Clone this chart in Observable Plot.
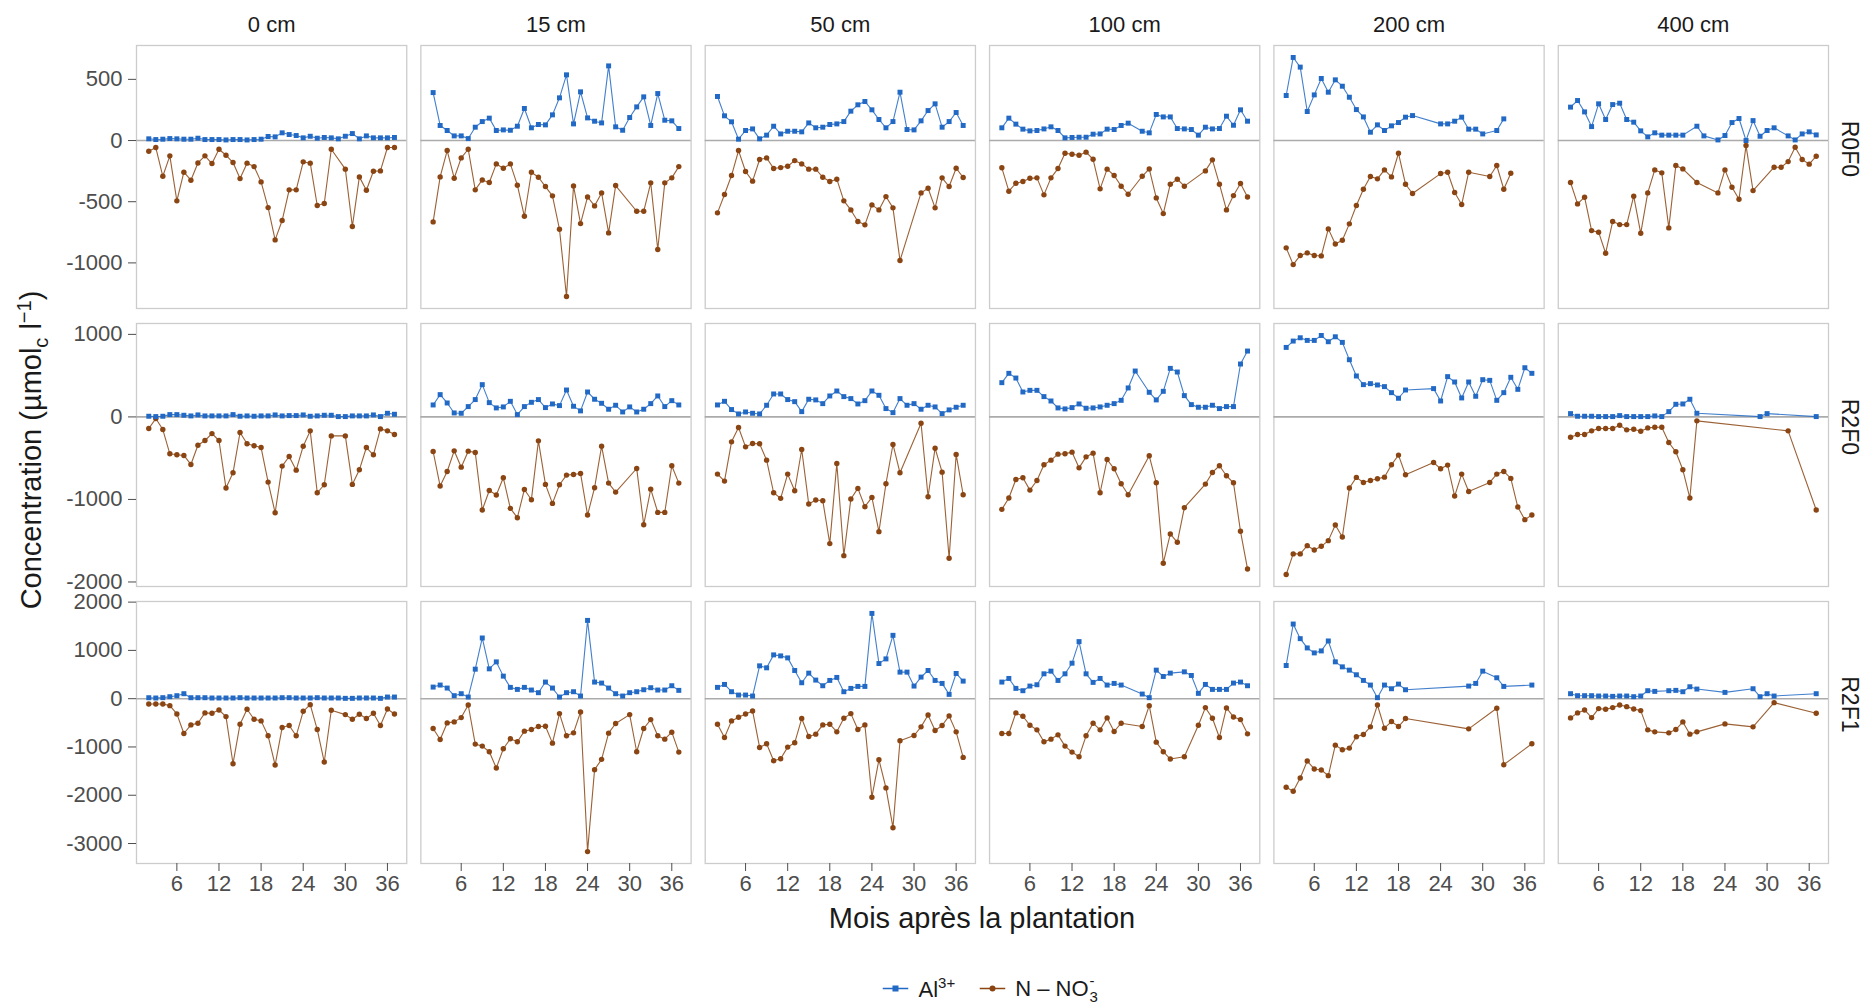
<!DOCTYPE html>
<html><head><meta charset="utf-8">
<script src="https://cdn.jsdelivr.net/npm/d3@7"></script>
<script src="https://cdn.jsdelivr.net/npm/@observablehq/plot@0.6"></script>
<style>
body{margin:0;background:#fff;font-family:"Liberation Sans",Arial,Helvetica,sans-serif;}
#wrap{position:relative;width:1865px;height:1006px;overflow:hidden;background:#fff;}
.row{position:absolute;left:0;}
.ytitle{position:absolute;left:33px;top:450px;transform:translate(-50%,-50%) rotate(-90deg);font-size:29px;color:#1a1a1a;white-space:nowrap;}
.xtitle{position:absolute;left:982px;top:918px;transform:translate(-50%,-50%);font-size:29px;color:#1a1a1a;white-space:nowrap;}
.legend{position:absolute;left:991px;top:988px;transform:translate(-50%,-50%);display:flex;align-items:center;font-size:22px;color:#1a1a1a;white-space:nowrap;}
.legend svg{margin-right:10px;}
.legend .item{display:flex;align-items:center;margin:0 12px;}
.sup{font-size:15px;vertical-align:9px;}
.ss{position:relative;display:inline-block;width:11px;height:22px;}
.ss span{position:absolute;left:1px;font-size:15px;line-height:15px;}
</style></head><body><div id="wrap"></div>
<script>
// ---------- categories ----------
const months = [2,3,4,5,6,7,8,9,10,11,12,13,14,15,16,17,18,19,20,21,22,23,24,25,26,27,28,29,30,31,32,33,34,35,36,37];
const depths = ["0 cm","15 cm","50 cm","100 cm","200 cm","400 cm"];
const treatments = ["R0F0","R2F0","R2F1"];
const xTicks = [6,12,18,24,30,36];
const yTicksR0F0 = [-1000,-500,0,500];
const yTicksR2F0 = [-2000,-1000,0,1000];
const yTicksR2F1 = [-3000,-2000,-1000,0,1000,2000];

// ---------- R0F0 ----------
const al_R0F0_0   = [14,8,11,16,14,11,11,19,8,8,8,5,8,8,5,8,11,33,30,63,49,41,22,35,19,25,22,14,35,57,14,38,22,22,22,25];
const no3_R0F0_0  = [-87,-57,-292,-125,-493,-259,-324,-183,-125,-188,-71,-120,-180,-311,-185,-213,-338,-548,-812,-654,-403,-403,-174,-185,-531,-515,-71,null,-234,-703,-297,-406,-251,-248,-57,-57];
const al_R0F0_15  = [392,123,82,38,38,16,109,155,183,82,87,84,117,262,104,131,128,210,349,537,136,398,185,158,144,610,112,84,188,275,357,123,384,166,161,98];
const no3_R0F0_15 = [-665,-297,-82,-308,-142,-71,-403,-322,-343,-191,-226,-191,-365,-619,-259,-300,-376,-452,-725,-1275,-371,-679,-461,-534,-428,-755,-368,null,null,-578,-578,-346,-891,-346,-305,-213];
const al_R0F0_50  = [360,202,153,11,82,95,14,44,117,54,76,76,71,144,104,109,131,136,155,240,292,319,251,172,104,155,395,90,87,161,245,300,109,155,229,123];
const no3_R0F0_50 = [-591,-441,-286,-82,-253,-332,-155,-142,-229,-221,-210,-164,-191,-234,-234,-300,-335,-316,-493,-567,-662,-689,-526,-567,-458,-550,-981,null,null,-428,-390,-550,-305,-376,-226,-302];
const al_R0F0_100 = [104,183,134,93,79,82,95,112,82,22,25,27,27,52,54,93,90,123,142,null,76,63,213,193,193,98,95,90,44,109,95,98,199,125,251,158];
const no3_R0F0_100= [-223,-414,-349,-335,-308,-305,-444,-305,-229,-104,-112,-120,-95,-153,-395,-234,-286,-373,-439,null,-292,-232,-469,-597,-357,-316,-373,null,null,-248,-158,-357,-567,-450,-351,-461];
const al_R0F0_200 = [368,679,600,237,373,507,395,496,444,354,253,193,68,128,82,120,147,191,204,null,null,null,136,136,158,191,93,93,54,null,82,177,null,null,null,null];
const no3_R0F0_200= [-877,-1014,-939,-918,-939,-943,-722,-845,-815,-681,-531,-398,-294,-313,-240,-297,-104,-357,-433,null,null,null,-270,-259,-425,-523,-259,null,null,-294,-204,-398,-267,null,null,null];
const al_R0F0_400 = [273,327,234,114,300,172,294,305,172,150,79,30,63,44,44,44,44,null,117,38,null,5,41,147,180,0,163,35,82,104,null,38,5,54,71,46];
const no3_R0F0_400= [-343,-518,-463,-736,-749,-921,-662,-687,-687,-455,-758,-428,-240,-264,-714,-204,-232,null,-343,null,null,-428,-240,-382,-480,-41,-409,null,null,-218,-218,-172,-55,-155,-193,-128];

// ---------- R2F0 ----------
const al_R2F0_0   = [8,4,8,28,28,20,12,24,12,12,12,12,28,8,12,8,12,12,24,12,16,16,24,8,12,20,20,4,4,12,12,12,24,4,44,32];
const no3_R2F0_0  = [-141,-20,-153,-447,-459,-467,-576,-343,-286,-202,-286,-862,-677,-189,-326,-350,-371,-790,-1161,-596,-480,-645,-355,-169,-919,-822,-230,null,-230,-818,-641,-371,-459,-145,-169,-214];
const al_R2F0_15  = [145,270,169,48,44,125,210,391,173,109,121,189,28,125,177,210,113,157,137,326,129,73,302,214,165,93,141,60,121,60,93,161,254,125,197,145];
const no3_R2F0_15 = [-419,-838,-661,-411,-609,-415,-431,-1128,-891,-947,-738,-1108,-1221,-879,-1003,-290,-818,-1048,-822,-705,-697,-685,-1189,-858,-355,-802,-911,null,null,-625,-1306,-875,-1157,-1157,-592,-802];
const al_R2F0_50  = [145,189,89,36,60,44,36,141,278,278,210,185,64,214,206,161,254,314,246,222,157,197,314,262,101,52,222,141,161,93,141,121,40,85,117,141];
const no3_R2F0_50 = [-693,-778,-302,-129,-363,-322,-326,-524,-919,-987,-693,-895,-395,-1056,-1007,-1015,-1535,-564,-1681,-995,-866,-1088,-975,-1390,-810,-334,-677,null,null,-77,-967,-379,-669,-1713,-455,-943];
const al_R2F0_100 = [415,528,471,302,322,322,246,193,109,97,113,157,105,109,121,141,161,201,351,556,null,298,206,310,588,544,258,149,117,117,141,101,125,125,641,798];
const no3_R2F0_100= [-1120,-983,-758,-737,-887,-770,-580,-524,-451,-447,-427,-617,-484,-439,-919,-516,-629,-810,-943,null,null,-471,-798,-1773,-1418,-1519,-1100,null,null,-814,-673,-592,-713,-798,-1386,-1842];
const al_R2F0_200 = [842,919,959,927,927,987,911,971,903,693,496,391,403,387,367,294,226,326,null,null,null,343,193,488,423,230,423,250,451,443,201,294,480,334,596,528];
const no3_R2F0_200= [-1910,-1660,-1660,-1560,-1612,-1568,-1499,-1310,-1455,-862,-733,-794,-770,-750,-730,-580,-463,-701,null,null,null,-552,-629,-584,-959,-693,-903,null,null,-794,-693,-661,-745,-1092,-1245,-1189];
const al_R2F0_400 = [40,8,8,8,4,4,4,16,4,4,4,4,12,4,64,153,157,214,44,null,null,null,null,null,null,null,null,4,40,null,null,null,null,null,null,4];
const no3_R2F0_400= [-246,-214,-214,-169,-141,-141,-141,-101,-157,-149,-173,-133,-125,-125,-310,-423,-641,-983,-48,null,null,null,null,null,null,null,null,null,null,null,null,-169,null,null,null,-1128];

// ---------- R2F1 ----------
const al_R2F1_0   = [20,14,21,41,62,103,20,20,20,14,14,14,14,20,14,14,14,14,14,20,20,14,14,14,20,14,14,14,7,7,14,14,14,7,34,34];
const no3_R2F1_0  = [-110,-110,-110,-144,-316,-721,-543,-508,-295,-302,-234,-371,-1347,-529,-220,-426,-460,-769,-1374,-598,-556,-769,-261,-124,-639,-1312,-240,null,-330,-426,-323,-412,-302,-556,-213,-316];
const al_R2F1_15  = [240,282,220,62,103,34,611,1257,618,762,467,234,192,234,179,124,344,220,34,124,144,55,1621,344,323,220,103,55,124,144,185,227,179,179,268,172];
const no3_R2F1_15 = [-618,-845,-502,-481,-392,-131,-941,-982,-1099,-1436,-1037,-831,-893,-673,-639,-577,-570,-921,-309,-769,-708,-275,-3167,-1470,-1257,-714,-515,null,-330,-1099,-618,-433,-769,-838,-694,-1106];
const al_R2F1_50  = [234,295,144,75,75,55,680,639,907,886,845,584,330,529,385,268,378,440,144,213,254,254,1766,728,824,1312,550,550,261,447,584,378,316,89,522,364];
const no3_R2F1_50 = [-529,-804,-460,-385,-316,-254,-1010,-934,-1285,-1243,-1003,-914,-412,-783,-735,-543,-529,-687,-405,-309,-639,-543,-2040,-1264,-1848,-2672,-872,null,-763,-584,-337,-659,-556,-357,-687,-1216];
const al_R2F1_100 = [344,419,213,165,261,289,515,570,378,515,735,1182,515,337,419,282,316,282,null,null,96,21,591,460,529,null,556,481,110,295,192,192,192,323,344,268];
const no3_R2F1_100= [-721,-721,-295,-364,-550,-646,-893,-838,-749,-982,-1106,-1202,-769,-508,-646,-398,-680,-508,null,null,-577,-144,-900,-1099,-1250,null,-1202,null,-550,-185,-405,-804,-192,-378,-433,-728];
const al_R2F1_200 = [687,1546,1243,1051,948,989,1195,763,659,591,495,378,282,21,282,206,302,185,null,null,null,null,null,null,null,null,261,316,570,null,433,254,null,null,null,282];
const no3_R2F1_200= [-1834,-1917,-1642,-1292,-1456,-1477,-1594,-962,-1058,-1024,-790,-742,-584,-131,-611,-474,-577,-412,null,null,null,null,null,null,null,null,-625,null,null,null,-199,-1367,null,null,null,-934];
const al_R2F1_400 = [103,62,62,62,55,55,48,55,55,41,55,165,151,null,165,172,144,247,199,null,null,null,130,null,null,null,206,41,103,55,null,null,null,null,null,103];
const no3_R2F1_400= [-398,-295,-234,-392,-206,-220,-185,-131,-165,-213,-247,-646,-687,null,-708,-639,-481,-735,-687,null,null,null,-522,null,null,null,-584,null,null,-82,null,null,null,null,null,-302];

const BLUE = "#2169c4";
const BROWN = "#8a4512";

const seriesByRow = {
  R0F0: [[al_R0F0_0,no3_R0F0_0],[al_R0F0_15,no3_R0F0_15],[al_R0F0_50,no3_R0F0_50],[al_R0F0_100,no3_R0F0_100],[al_R0F0_200,no3_R0F0_200],[al_R0F0_400,no3_R0F0_400]],
  R2F0: [[al_R2F0_0,no3_R2F0_0],[al_R2F0_15,no3_R2F0_15],[al_R2F0_50,no3_R2F0_50],[al_R2F0_100,no3_R2F0_100],[al_R2F0_200,no3_R2F0_200],[al_R2F0_400,no3_R2F0_400]],
  R2F1: [[al_R2F1_0,no3_R2F1_0],[al_R2F1_15,no3_R2F1_15],[al_R2F1_50,no3_R2F1_50],[al_R2F1_100,no3_R2F1_100],[al_R2F1_200,no3_R2F1_200],[al_R2F1_400,no3_R2F1_400]]
};
const yTicksByRow = {R0F0: yTicksR0F0, R2F0: yTicksR2F0, R2F1: yTicksR2F1};

function table(t) {
  const rows = [];
  seriesByRow[t].forEach(([al, no3], j) => {
    months.forEach((m, i) => rows.push({depth: depths[j], month: m, al: al[i], no3: no3[i]}));
  });
  return rows;
}

const FONT = '"Liberation Sans", Arial, Helvetica, sans-serif';
const layout = {
  R0F0: {top: 0,   mt: 45, mb: 2,  h: 310},
  R2F0: {top: 318, mt: 5,  mb: 5,  h: 273},
  R2F1: {top: 596, mt: 5,  mb: 40, h: 307}
};

const wrap = document.getElementById("wrap");
const [mlo, mhi] = d3.extent(months);
const mpad = (mhi - mlo) * 0.05;

treatments.forEach((t, ri) => {
  const data = table(t);
  const vals = data.flatMap(d => [d.al, d.no3]).filter(v => v != null);
  const [lo, hi] = d3.extent(vals);
  const pad = (hi - lo) * 0.05;
  const L = layout[t];
  const alData = data.filter(d => d.al != null);
  const noData = data.filter(d => d.no3 != null);
  const marks = [
    Plot.frame({stroke: "#cccccc", strokeWidth: 1.3}),
    Plot.ruleY([0], {stroke: "#ababab", strokeWidth: 1.6}),
    Plot.line(noData, {fx: "depth", x: "month", y: "no3", stroke: BROWN, strokeWidth: 1.1, strokeOpacity: 0.85}),
    Plot.line(alData, {fx: "depth", x: "month", y: "al", stroke: BLUE, strokeWidth: 1.1, strokeOpacity: 0.85}),
    Plot.dot(noData, {fx: "depth", x: "month", y: "no3", r: 2.7, fill: BROWN, symbol: "circle"}),
    Plot.dot(alData, {fx: "depth", x: "month", y: "al", r: 2.8, fill: BLUE, symbol: "square"}),
    Plot.axisY({ticks: yTicksByRow[t], tickSize: 8, tickPadding: 6, tickFormat: d => String(d), label: null, facetAnchor: "left", fontSize: 22, color: "#4d4d4d"}),
    Plot.text([t], {fx: () => depths[5], text: d => d, frameAnchor: "right", dx: 21, rotate: 90, fontSize: 23, fill: "#1a1a1a"})
  ];
  if (ri === 0) {
    marks.push(Plot.text(depths, {fx: d => d, text: d => d, frameAnchor: "top", dy: -29, fontSize: 22, fill: "#1a1a1a"}));
  }
  if (ri === 2) {
    marks.push(Plot.axisX({ticks: xTicks, tickSize: 8, tickPadding: 4, label: null, facetAnchor: "bottom", fontSize: 22, color: "#4d4d4d"}));
  }
  const svg = Plot.plot({
    width: 1865, height: L.h,
    marginLeft: 136, marginRight: 37, marginTop: L.mt, marginBottom: L.mb,
    style: {fontFamily: FONT, fontSize: "22px", background: "transparent", overflow: "visible"},
    fx: {domain: depths, paddingInner: 0.0496, paddingOuter: 0, round: false, axis: null, label: null},
    x: {domain: [mlo - mpad, mhi + mpad], axis: null},
    y: {domain: [lo - pad, hi + pad], axis: null},
    marks
  });
  svg.classList.add("row");
  svg.style.top = L.top + "px";
  wrap.appendChild(svg);
});

// titles
const yt = document.createElement("div");
yt.className = "ytitle";
yt.innerHTML = 'Concentration (µmol<sub style="font-size:20px">c</sub> l<sup style="font-size:20px">−1</sup>)';
wrap.appendChild(yt);

const xt = document.createElement("div");
xt.className = "xtitle";
xt.textContent = "Mois après la plantation";
wrap.appendChild(xt);

// legend
const lg = document.createElement("div");
lg.className = "legend";
lg.innerHTML =
  '<div class="item"><svg width="26" height="14"><line x1="0" y1="7" x2="26" y2="7" stroke="' + BLUE + '" stroke-width="1.3"/><rect x="10" y="4" width="6" height="6" fill="' + BLUE + '"/></svg>' +
  '<span>Al<span class="sup">3+</span></span></div>' +
  '<div class="item"><svg width="26" height="14"><line x1="0" y1="7" x2="26" y2="7" stroke="' + BROWN + '" stroke-width="1.3"/><circle cx="13" cy="7" r="3" fill="' + BROWN + '"/></svg>' +
  '<span>N – NO</span><span class="ss"><span style="top:-5px">-</span><span style="top:11px">3</span></span></div>';
wrap.appendChild(lg);
</script>
</body></html>
